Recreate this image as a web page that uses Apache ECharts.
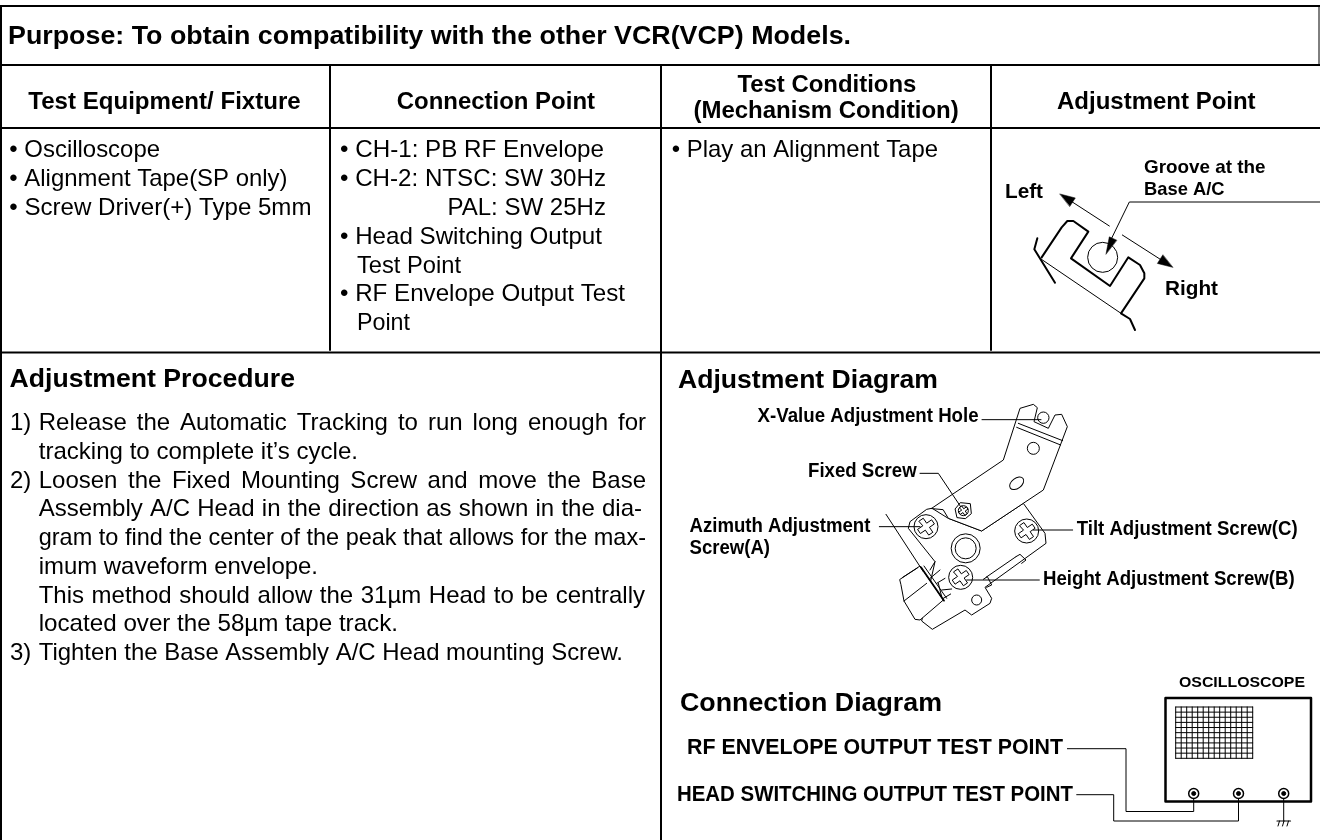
<!DOCTYPE html>
<html><head><meta charset="utf-8">
<style>html,body{margin:0;padding:0;background:#fff}#c{width:1320px;height:840px}</style>
<script src="https://cdn.jsdelivr.net/npm/echarts@6/dist/echarts.min.js"></script></head>
<body><div id="c"></div>
<script>
const purpose = "Purpose: To obtain compatibility with the other VCR(VCP) Models.";
const tableHeaders = ["Test Equipment/ Fixture", "Connection Point", "Test Conditions", "(Mechanism Condition)", "Adjustment Point"];
const equipmentLines = ["• Oscilloscope", "• Alignment Tape(SP only)", "• Screw Driver(+) Type 5mm"];
const connectionLines = ["• CH-1: PB RF Envelope", "• CH-2: NTSC: SW 30Hz", "PAL: SW 25Hz", "• Head Switching Output", "Test Point", "• RF Envelope Output Test", "Point"];
const conditionLines = ["• Play an Alignment Tape"];
const procedureTitle = "Adjustment Procedure";
const procedureNumbers = ["1)", "2)", "3)"];
const procedureLines = [
 "Release the Automatic Tracking to run long enough for",
 "tracking to complete it’s cycle.",
 "Loosen the Fixed Mounting Screw and move the Base",
 "Assembly A/C Head in the direction as shown in the dia-",
 "gram to find the center of the peak that allows for the max-",
 "imum waveform envelope.",
 "This method should allow the 31µm Head to be centrally",
 "located over the 58µm tape track.",
 "Tighten the Base Assembly A/C Head mounting Screw."];
const diagramTitles = ["Adjustment Diagram", "Connection Diagram"];
const adjustLabels = ["X-Value Adjustment Hole", "Fixed Screw", "Azimuth Adjustment", "Screw(A)", "Tilt Adjustment Screw(C)", "Height Adjustment Screw(B)"];
const pointLabels = ["Groove at the", "Base A/C", "Left", "Right"];
const connLabels = ["OSCILLOSCOPE", "RF ENVELOPE OUTPUT TEST POINT", "HEAD SWITCHING OUTPUT TEST POINT", "CH-1", "CH-2"];

const FF = '"Liberation Sans", Arial, sans-serif';
const els = [];
const mc = document.createElement('canvas').getContext('2d');
const DY = 1.5;
function width(str, font){ mc.font = font; return mc.measureText(str).width; }
function T(str, x, y, size, bold, x1, sxOverride) {
  const font = (bold ? 'bold ' : '') + size + 'px ' + FF;
  const w = width(str, font);
  let sx = sxOverride || 1;
  if (x1 != null) sx = (x1 - x) / w;
  els.push({type:'text', silent:true, x:x, y:y+DY, scaleX:sx, scaleY:1,
    style:{text:str, font:font, fill:'#000', textAlign:'left', textVerticalAlign:'middle'}});
}
function J(str, x, y, size, x1, sx){
  const font = size + 'px ' + FF, words = str.split(' ');
  const ws = words.map(w=>width(w,font)*sx), sum = ws.reduce((a,b)=>a+b,0);
  const gap = (x1-x-sum)/(words.length-1);
  let cx = x;
  words.forEach((w,i)=>{ T(w,cx,y,size,false,null,sx); cx += ws[i]+gap; });
}
function L(pts, w, closed, fill, color) {
  els.push({type: closed ? 'polygon' : 'polyline', silent:true, shape:{points:pts},
    style:{stroke:color||'#000', lineWidth:w==null?1:w, fill:fill||(closed?'#fff':null), lineJoin:'round', lineCap:'round'}});
}
function C(x, y, r, w, fill) {
  els.push({type:'circle', silent:true, shape:{cx:x, cy:y, r:r}, style:{stroke:'#000', lineWidth:w==null?1:w, fill:fill||'#fff'}});
}
function map(ox, oy, sx, sy, pts){ return pts.map(p=>[ox+p[0]/sx, oy+p[1]/sy]); }
const Z4 = pts => map(770,370,3,3,pts);
const Z1 = pts => map(960,170,3,3,pts);
function arrowHead(tip, from, len, hw){
  const dx=tip[0]-from[0], dy=tip[1]-from[1], d=Math.hypot(dx,dy), ux=dx/d, uy=dy/d;
  L([tip,[tip[0]-ux*len-uy*hw,tip[1]-uy*len+ux*hw],[tip[0]-ux*len+uy*hw,tip[1]-uy*len-ux*hw]],0.5,true,'#000');
}

// table frame
[[[0,6],[1320,6]],[[0,65],[1320,65]],[[0,128],[1320,128]],[[0,352.5],[1320,352.5]]].forEach(p=>L(p,2));
[[[1,6],[1,840]],[[330,65],[330,350]],[[661,65],[661,840]],[[991,65],[991,350]]].forEach(p=>L(p,2));
L([[1319,6],[1319,65]],1);

const B=26, S=24;
T(purpose, 8, 35, B, true, 851);
T(tableHeaders[0], 28.3, 100.5, S, true, 300.7);
T(tableHeaders[1], 396.7, 101, S, true, 595);
T(tableHeaders[2], 737.4, 83.5, S, true, 916.4);
T(tableHeaders[3], 693.4, 110, S, true, 958.7);
T(tableHeaders[4], 1057, 101, S, true, 1255.6);

const rowY = [149,178,207,236,264.5,293,322];
const eqEnd=[160,287.5,311.5];
equipmentLines.forEach((s,i)=>T(s, 9.3, rowY[i], S, false, eqEnd[i]));
const connX=[340,340,447.4,340,357,340,357], connEnd=[604,606,606,602,461,625,410];
connectionLines.forEach((s,i)=>T(s, connX[i], rowY[i], S, false, connEnd[i]));
conditionLines.forEach((s,i)=>T(s, 671.7, 148.5, S, false, 938));

T(procedureTitle, 9.5, 378, B, true, 295);
const procY = [421.7,450.7,479.5,508.3,537.3,566,594.5,623,651.7];
const numberAt = [0,2,8];
procedureNumbers.forEach((s,i)=>T(s, 10, procY[numberAt[i]], S, false));
const procEnd = [646,358,646,642,646,318,645,398,623];
[0,2,3,6].forEach(i=>J(procedureLines[i],38.7,procY[i],S,procEnd[i],1));
[1,4,5,7,8].forEach(i=>T(procedureLines[i],38.7,procY[i],S,false,procEnd[i]));

// Adjustment point
T(pointLabels[0], 1144, 166, 18.5, true, 1265.6);
T(pointLabels[1], 1144, 188, 18.5, true, 1224.5);
T(pointLabels[2], 1005, 190.5, 21, true, 1043);
T(pointLabels[3], 1165, 288, 21, true, 1218);
L(Z1([[1080,96],[508,96],[445,225]]),1);
arrowHead(Z1([[438,252]])[0], Z1([[508,96]])[0], 17, 4);
L(Z1([[448,168],[320,85]]),1);
arrowHead(Z1([[300,72]])[0], Z1([[448,168]])[0], 15, 5);
L(Z1([[487,195],[615,277]]),1);
arrowHead(Z1([[638,292]])[0], Z1([[487,195]])[0], 15, 5);
L(Z1([[245,262],[305,172],[322,153],[340,153],[385,185],[333,265],[450,348],[505,262],[540,285],[553,310],[553,325],[483,430],[510,447],[525,480]]),2);
L(Z1([[232,205],[223,238],[285,338]]),2);
L(Z1([[240,265],[483,430]]),1);
els.push({type:'circle',silent:true,z:-1,shape:{cx:960+428/3,cy:170+262/3,r:15},style:{stroke:'#000',lineWidth:1,fill:'#fff'}});

// Adjustment diagram
T(diagramTitles[0], 678, 379, B, true, 938);
const LS=19.5;
T(adjustLabels[0], 757.6, 415, LS, true, 978.6);
T(adjustLabels[1], 808, 470, LS, true, 916.7);
T(adjustLabels[2], 689.5, 525, LS, true, 870.4);
T(adjustLabels[3], 689.5, 547, LS, true, 770);
T(adjustLabels[4], 1076.7, 527.7, LS, true, 1297.6);
T(adjustLabels[5], 1043, 578.3, LS, true, 1294.7);

// lower plate
L(Z4([[485,415],[470,418],[420,455],[415,475],[495,575],[455,753],[487,778],[585,720],[605,735],[660,700],[665,685],[645,652],[828,520],[825,490],[760,400],[635,483],[535,445]]),1,true);
// upper arm
L(Z4([[485,415],[700,270],[750,115],[790,103],[802,113],[792,155],[835,175],[855,135],[875,133],[892,170],[820,360],[635,483],[535,445],[520,420]]),1,true);
L(Z4([[745,160],[878,212]]),1); L(Z4([[740,172],[872,225]]),1);
// head pins behind the block
[[[480,600],[495,575]],[[480,625],[510,600]],[[500,640],[525,625]],[[515,660],[545,657]],[[520,685],[542,672]],[[505,640],[515,680]]].forEach(p=>L(Z4(p),1));
// head block
L(Z4([[390,628],[450,588],[520,690],[450,750],[435,748],[402,693],[393,645]]),1,true);
L(Z4([[402,693],[470,640]]),1);
L(Z4([[398,622],[442,594]]),1);
L(Z4([[453,592],[522,692]]),1.8); L(Z4([[462,588],[530,685]]),1);
// rib near plate edge
L(Z4([[648,622],[738,560]]),1);
L(Z4([[738,560],[750,553],[768,570],[755,580]]),1);
L(Z4([[640,628],[652,620],[665,645],[650,652]]),1);
// holes
[[790,235,18],[620,690,15],[820,143,17]].forEach(h=>{const p=Z4([[h[0],h[1]]])[0];C(p[0],p[1],h[2]/3,1);});
els.push({type:'ellipse',silent:true,shape:{cx:770+740/3,cy:370+340/3,rx:8,ry:5},rotation:0.65,originX:770+740/3,originY:370+340/3,style:{stroke:'#000',lineWidth:1,fill:'#fff'}});
// centre boss
let cb=Z4([[587,535]])[0]; C(cb[0],cb[1],14.5,1); C(cb[0],cb[1],10.5,1);
// screws
function cross(cx,cy,rot,k){
  const a=2.5*k,b=8.5*k,w=[[ -a,-b],[a,-b],[a,-a],[b,-a],[b,a],[a,a],[a,b],[-a,b],[-a,a],[-b,a],[-b,-a],[-a,-a]];
  const c=Math.cos(rot),s=Math.sin(rot);
  L(w.map(p=>[cx+p[0]*c-p[1]*s,cy+p[0]*s+p[1]*c]),1,true);
}
[[468,470],[770,483],[572,622]].forEach(s=>{const p=Z4([s])[0];C(p[0],p[1],12,1);cross(p[0],p[1],-0.6,1);});
// fixed screw
let fs=Z4([[580,422]])[0];
L([[fs[0]-8,fs[1]-2],[fs[0]-3,fs[1]-8],[fs[0]+7,fs[1]-7],[fs[0]+8,fs[1]+3],[fs[0]+2,fs[1]+8],[fs[0]-6,fs[1]+7]],1,true);
C(fs[0],fs[1],5,1); cross(fs[0],fs[1],-0.6,0.55);
// leaders
L(Z4([[636,149],[813,149]]),1);
L(Z4([[450,310],[505,310],[572,410]]),1);
L(Z4([[328,470],[450,470]]),1);
L(Z4([[908,480],[790,480]]),1);
L(Z4([[808,630],[590,630]]),1);
L(Z4([[348,433],[460,605]]),1);

// Connection diagram
T(diagramTitles[1], 680, 702, B, true, 942);
T(connLabels[0], 1179, 681, 15.5, true, 1305);
T(connLabels[1], 687, 746, 22.5, true, 1063);
T(connLabels[2], 677, 793, 22.5, true, 1073);
T(connLabels[3], 1179.3, 774, 16, false, 1211.7);
T(connLabels[4], 1226.7, 774, 16, false, 1260.7);
L([[1165.5,698],[1311,698],[1311,801.5],[1165.5,801.5]],2.5,true);
const gridCols=[...Array(15).keys()], gridRows=[...Array(11).keys()];
gridCols.forEach(i=>L([[1175.7+i*77/14,707],[1175.7+i*77/14,758.3]],1));
gridRows.forEach(i=>L([[1175.7,707+i*51.3/10],[1252.7,707+i*51.3/10]],1));
[[1193.7,793.5],[1238.5,793.5],[1283.7,793.5]].forEach(j=>{C(j[0],j[1],5,1.5);C(j[0],j[1],2,1,'#000');});
L([[1067.4,748.7],[1126,748.7],[1126,811.5],[1193.7,811.5],[1193.7,799]],1);
L([[1076.7,794.7],[1113.7,794.7],[1113.7,821],[1238.5,821],[1238.5,799]],1);
L([[1283.7,799],[1283.7,821]],1);
L([[1277,821],[1290.5,821]],1.2);
[[1279.5,821],[1284,821],[1288.5,821]].forEach(p=>L([p,[p[0]-1.5,p[1]+5]],1));

const chart = echarts.init(document.getElementById('c'), null, {renderer:'canvas'});
chart.setOption({animation:false, backgroundColor:'#fff', graphic:{elements:els}});
</script></body></html>
